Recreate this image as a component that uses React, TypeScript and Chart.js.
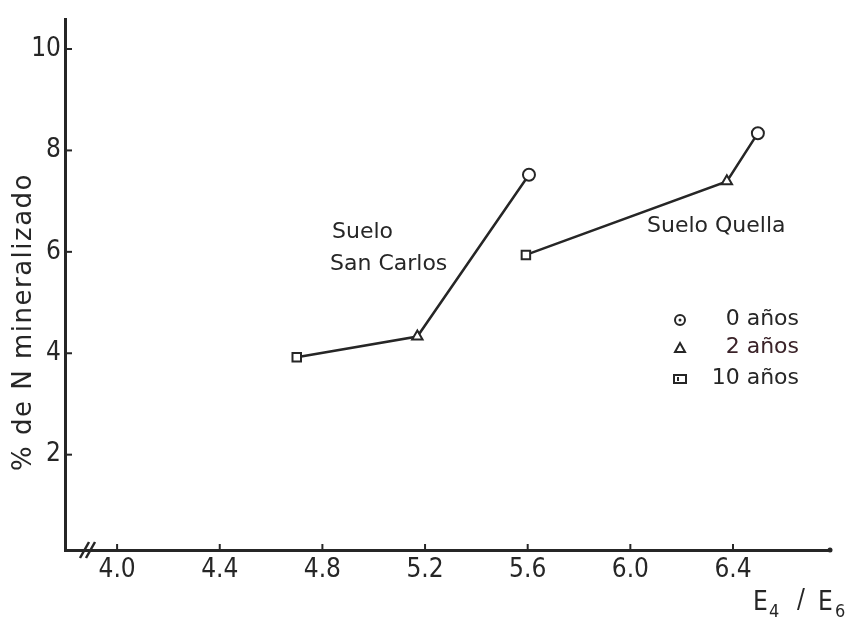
import React, { useEffect, useRef } from "react";
import { Chart, registerables } from "chart.js";

Chart.register(...registerables);

// E4/E6 ratio (x) and % N mineralised (y); point order: 10 años, 2 años, 0 años
const sanCarlosX = [4.7, 5.17, 5.605];
const sanCarlosY = [3.92, 4.33, 7.52];
const quellaX = [5.593, 6.376, 6.497];
const quellaY = [5.94, 7.39, 8.34];
const pointStyles = ["rect", "triangle", "circle"];

const xTicks = [4.0, 4.4, 4.8, 5.2, 5.6, 6.0, 6.4];
const yTicks = [2, 4, 6, 8, 10];

const legendItems = [
  { style: "circle", label: "0 años" },
  { style: "triangle", label: "2 años" },
  { style: "rect", label: "10 años" },
];

const INK = "#262626";
const LABEL_FONT = '"DejaVu Sans", sans-serif';
const TICK_FONT = '"Liberation Sans Narrow", "DejaVu Sans Condensed", sans-serif';

function drawMarker(ctx: CanvasRenderingContext2D, style: string, x: number, y: number) {
  ctx.save();
  ctx.strokeStyle = INK;
  ctx.fillStyle = "#fff";
  ctx.lineWidth = 2;
  ctx.beginPath();
  if (style === "circle") {
    ctx.arc(x, y, 5, 0, Math.PI * 2);
    ctx.fill();
    ctx.stroke();
    ctx.beginPath();
    ctx.arc(x, y, 1.5, 0, Math.PI * 2);
    ctx.fillStyle = INK;
    ctx.fill();
  } else if (style === "triangle") {
    ctx.moveTo(x, y - 5);
    ctx.lineTo(x + 5, y + 4);
    ctx.lineTo(x - 5, y + 4);
    ctx.closePath();
    ctx.fill();
    ctx.stroke();
  } else {
    ctx.rect(x - 6, y - 4, 12, 8);
    ctx.fill();
    ctx.stroke();
    ctx.beginPath();
    ctx.moveTo(x - 2, y - 2);
    ctx.lineTo(x - 2, y + 2);
    ctx.stroke();
  }
  ctx.restore();
}

const decorPlugin = {
  id: "decor",
  afterDraw(chart: any) {
    const { ctx, scales, chartArea } = chart;
    const xs = scales.x;
    const ys = scales.y;
    ctx.save();
    ctx.strokeStyle = INK;
    ctx.fillStyle = INK;
    ctx.lineWidth = 2;
    // inward tick marks
    xTicks.forEach((v) => {
      const px = xs.getPixelForValue(v);
      ctx.beginPath();
      ctx.moveTo(px, chartArea.bottom);
      ctx.lineTo(px, chartArea.bottom - 6);
      ctx.stroke();
    });
    yTicks.forEach((v) => {
      const py = ys.getPixelForValue(v);
      ctx.beginPath();
      ctx.moveTo(chartArea.left, py);
      ctx.lineTo(chartArea.left + 7, py);
      ctx.stroke();
    });
    // axis break
    ctx.lineWidth = 2.5;
    [0, 6].forEach((dx) => {
      ctx.beginPath();
      ctx.moveTo(chartArea.left + 15 + dx, chartArea.bottom + 8);
      ctx.lineTo(chartArea.left + 24 + dx, chartArea.bottom - 8);
      ctx.stroke();
    });
    // axis end dot
    ctx.beginPath();
    ctx.arc(chartArea.right, chartArea.bottom, 2.5, 0, Math.PI * 2);
    ctx.fill();

    // y-axis title
    ctx.save();
    ctx.translate(24, 322);
    ctx.rotate(-Math.PI / 2);
    ctx.font = `26px ${LABEL_FONT}`;
    (ctx as any).letterSpacing = "1.5px";
    ctx.textAlign = "center";
    ctx.textBaseline = "middle";
    ctx.fillText("% de N mineralizado", 0, 0);
    ctx.restore();

    // x-axis title E4 / E6
    ctx.textBaseline = "alphabetic";
    ctx.textAlign = "left";
    ctx.font = `26px ${TICK_FONT}`;
    ctx.fillText("E", 753, 610);
    ctx.fillText("/", 797, 608);
    ctx.fillText("E", 818, 610);
    ctx.font = `18px ${TICK_FONT}`;
    ctx.fillText("4", 769, 617);
    ctx.fillText("6", 835, 617);

    // annotations
    ctx.font = `22px ${LABEL_FONT}`;
    ctx.textBaseline = "middle";
    ctx.fillText("Suelo", 332, 232);
    ctx.fillText("San Carlos", 330, 264);
    ctx.fillText("Suelo Quella", 647, 226);

    // legend
    const legY = [319, 347, 378];
    ctx.textAlign = "right";
    legendItems.forEach((item, i) => {
      drawMarker(ctx, item.style, 680, legY[i] + 1);
      ctx.fillStyle = i === 1 ? "#3a2228" : INK;
      ctx.fillText(item.label, 799, legY[i]);
    });
    ctx.restore();
  },
};

export default function App() {
  const ref = useRef<HTMLCanvasElement | null>(null);

  useEffect(() => {
    if (!ref.current) return;
    const mk = (xs: number[], ys: number[]) => xs.map((x, i) => ({ x, y: ys[i] }));
    const dsBase = {
      showLine: true,
      borderColor: INK,
      borderWidth: 2.5,
      pointStyle: pointStyles,
      pointRadius: 6,
      pointBackgroundColor: "#fff",
      pointBorderColor: INK,
      pointBorderWidth: 2,
      fill: false,
    };
    const chart = new Chart(ref.current, {
      type: "scatter",
      data: {
        datasets: [
          { label: "Suelo San Carlos", data: mk(sanCarlosX, sanCarlosY), ...dsBase },
          { label: "Suelo Quella", data: mk(quellaX, quellaY), ...dsBase },
        ] as any,
      },
      options: {
        animation: false,
        responsive: true,
        maintainAspectRatio: false,
        layout: { padding: { left: 0, right: 32, top: 15, bottom: 0 } },
        plugins: { legend: { display: false }, tooltip: { enabled: false } },
        scales: {
          x: {
            type: "linear",
            min: 3.797,
            max: 6.778,
            grid: { display: false, drawTicks: false },
            border: { color: INK, width: 3 },
            afterBuildTicks: (s: any) => {
              s.ticks = xTicks.map((v) => ({ value: v }));
            },
            afterFit: (s: any) => {
              s.height = 69;
            },
            ticks: {
              color: INK,
              padding: 5,
              maxRotation: 0,
              autoSkip: false,
              font: { family: TICK_FONT, size: 26 },
              callback: (v: any) => Number(v).toFixed(1),
            },
          },
          y: {
            type: "linear",
            min: 0.12,
            max: 10.58,
            grid: { display: false, drawTicks: false },
            border: { color: INK, width: 3 },
            afterBuildTicks: (s: any) => {
              s.ticks = yTicks.map((v) => ({ value: v }));
            },
            afterFit: (s: any) => {
              s.width = 65;
            },
            ticks: {
              color: INK,
              padding: 4,
              font: { family: TICK_FONT, size: 26 },
              callback: (v: any) => String(v),
            },
          },
        },
      },
      plugins: [decorPlugin],
    });
    return () => chart.destroy();
  }, []);

  return (
    <div style={{ position: "fixed", left: 0, top: 0, width: 862, height: 619, background: "#fff" }}>
      <canvas ref={ref} />
    </div>
  );
}
